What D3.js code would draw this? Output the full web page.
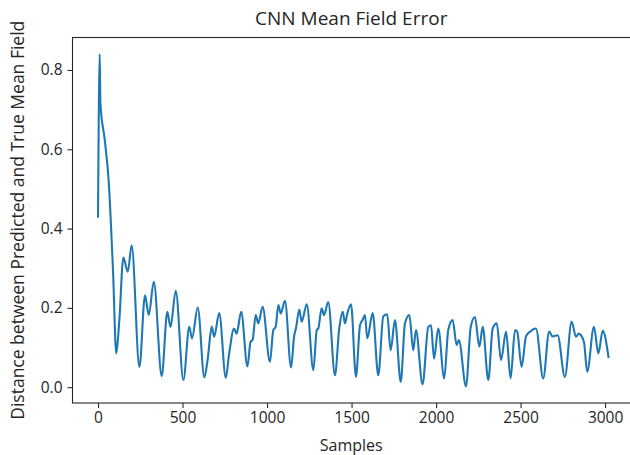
<!DOCTYPE html>
<html>
<head>
<meta charset="utf-8">
<script src="https://cdn.jsdelivr.net/npm/d3@7"></script>
<style>
  body { margin: 0; background: #fff; }
  svg text { font-family: "Open Sans", "DejaVu Sans", sans-serif; fill: #262626; }
</style>
</head>
<body>
<div id="chart"></div>
<script>
"use strict";

// samples index (vertices of the curve)
const samples = [
  0, 10, 14, 40, 63, 89, 108, 126, 150, 176, 199, 245, 278, 300, 330, 377,
  410, 429, 460, 505, 540, 556, 590, 629, 649, 673, 687, 717, 756, 775, 805,
  820, 847, 884, 902, 915, 933, 948, 974, 1017, 1037, 1051, 1067, 1081, 1106,
  1142, 1161, 1171, 1191, 1205, 1235, 1274, 1294, 1303, 1323, 1337, 1362,
  1402, 1427, 1448, 1461, 1475, 1497, 1526, 1550, 1569, 1579, 1593, 1625,
  1658, 1688, 1711, 1731, 1757, 1791, 1816, 1842, 1865, 1881, 1920, 1954,
  1970, 1988, 2013, 2048, 2072, 2098, 2122, 2135, 2177, 2205, 2230, 2256,
  2276, 2309, 2335, 2359, 2384, 2414, 2441, 2467, 2480, 2506, 2532, 2556,
  2591, 2634, 2669, 2689, 2719, 2762, 2802, 2828, 2844, 2875, 2894, 2934,
  2960, 2986, 3020
];
const meanFieldError = [
  0.43, 0.84, 0.716, 0.623, 0.52, 0.29, 0.085, 0.169, 0.327, 0.291, 0.358, 0.051, 0.232, 0.182, 0.266, 0.028,
  0.19, 0.152, 0.243, 0.018, 0.152, 0.123, 0.201, 0.025, 0.071, 0.153, 0.127, 0.187, 0.024, 0.082, 0.148,
  0.135, 0.19, 0.052, 0.114, 0.12, 0.182, 0.161, 0.203, 0.064, 0.144, 0.152, 0.207, 0.186, 0.218,
  0.05, 0.131, 0.148, 0.196, 0.165, 0.209, 0.043, 0.144, 0.148, 0.199, 0.182, 0.215,
  0.03, 0.148, 0.19, 0.161, 0.186, 0.209, 0.026, 0.156, 0.173, 0.182, 0.123, 0.187,
  0.03, 0.179, 0.184, 0.093, 0.169, 0.013, 0.161, 0.182, 0.093, 0.144, 0.007, 0.152,
  0.156, 0.072, 0.148, 0.022, 0.144, 0.169, 0.106, 0.119, 0.002, 0.152, 0.177, 0.102,
  0.152, 0.018, 0.148, 0.161, 0.068, 0.14, 0.022, 0.144, 0.14, 0.051, 0.128, 0.14,
  0.148, 0.022, 0.14, 0.128, 0.131, 0.026, 0.165, 0.127, 0.135, 0.114, 0.039, 0.152,
  0.085, 0.142, 0.076
];
const xTicks = [0, 500, 1000, 1500, 2000, 2500, 3000];
const yTicks = [0.0, 0.2, 0.4, 0.6, 0.8];

const chartTitle = "CNN Mean Field Error";
const xLabel = "Samples";
const yLabel = "Distance between Predicted and True Mean Field";

const width = 630, height = 455;
const plot = { left: 72.5, right: 634, top: 37.5, bottom: 403 };

const data = samples.map((s, i) => ({ x: s, y: meanFieldError[i] }));

// matplotlib-like 5% margins
const pad = (ext) => { const m = (ext[1] - ext[0]) * 0.05; return [ext[0] - m, ext[1] + m]; };

const x = d3.scaleLinear()
  .domain(pad(d3.extent(samples)))
  .range([plot.left, plot.right]);

const y = d3.scaleLinear()
  .domain(pad(d3.extent(meanFieldError)))
  .range([plot.bottom, plot.top]);

const svg = d3.select("#chart").append("svg")
  .attr("width", width)
  .attr("height", height);

svg.append("defs").append("clipPath").attr("id", "clip")
  .append("rect")
  .attr("x", plot.left).attr("y", plot.top)
  .attr("width", plot.right - plot.left).attr("height", plot.bottom - plot.top);

// line
svg.append("path")
  .datum(data)
  .attr("clip-path", "url(#clip)")
  .attr("fill", "none")
  .attr("stroke", "#1f77b4")
  .attr("stroke-width", 2.1)
  .attr("stroke-linejoin", "round")
  .attr("stroke-linecap", "square")
  .attr("d", d3.line().curve(d3.curveMonotoneX).x((d) => x(d.x)).y((d) => y(d.y)));

// axes
const xAxis = d3.axisBottom(x).tickValues(xTicks).tickFormat(d3.format("d"))
  .tickSizeInner(5).tickSizeOuter(0).tickPadding(4);
const yAxis = d3.axisLeft(y).tickValues(yTicks).tickFormat(d3.format(".1f"))
  .tickSizeInner(5).tickSizeOuter(0).tickPadding(5);

const gx = svg.append("g").attr("transform", `translate(0,${plot.bottom})`).call(xAxis);
const gy = svg.append("g").attr("transform", `translate(${plot.left},0)`).call(yAxis);

[gx, gy].forEach((g) => {
  g.select(".domain").remove();
  g.selectAll(".tick line").attr("stroke", "#262626").attr("stroke-width", 1.1);
  g.selectAll(".tick text").attr("font-size", 15.5).style("fill", "#262626");
});

// frame
svg.append("rect")
  .attr("x", plot.left).attr("y", plot.top)
  .attr("width", plot.right - plot.left).attr("height", plot.bottom - plot.top)
  .attr("fill", "none")
  .attr("stroke", "#262626")
  .attr("stroke-width", 1.1);

// title and labels
svg.append("text")
  .attr("x", (plot.left + plot.right) / 2 - 2)
  .attr("y", 25)
  .attr("text-anchor", "middle")
  .attr("font-size", 19)
  .text(chartTitle);

svg.append("text")
  .attr("x", (plot.left + plot.right) / 2 - 2)
  .attr("y", 451)
  .attr("text-anchor", "middle")
  .attr("font-size", 16)
  .text(xLabel);

svg.append("text")
  .attr("transform", `translate(24,${(plot.top + plot.bottom) / 2}) rotate(-90)`)
  .attr("text-anchor", "middle")
  .attr("font-size", 17.5)
  .text(yLabel);
</script>
</body>
</html>
